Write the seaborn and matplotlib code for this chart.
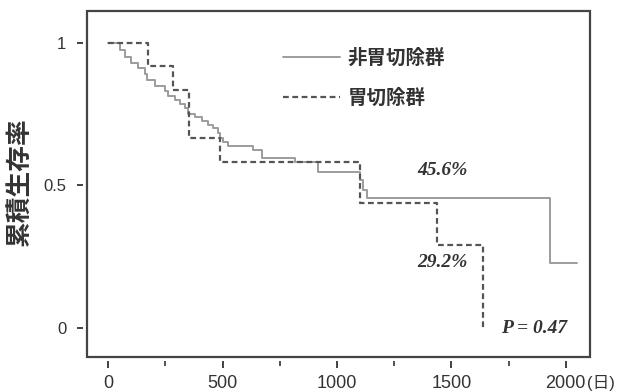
import matplotlib
matplotlib.use("Agg")
import matplotlib.pyplot as plt
import seaborn as sns
import pandas as pd
from matplotlib.lines import Line2D
from matplotlib.patches import Rectangle

# ---------------- data ----------------
groups = ["非胃切除群", "胃切除群"]
non_days = [0, 51, 75, 100, 130, 160, 170, 205, 248, 262, 292, 314, 335, 348, 379,
            410, 436, 458, 480, 488, 501, 523, 634, 671, 816, 918, 1100, 1115, 1130,
            1931, 2048]
non_surv = [1.0, 0.975, 0.95, 0.93, 0.91, 0.89, 0.87, 0.85, 0.83, 0.815, 0.80, 0.785,
            0.77, 0.752, 0.74, 0.725, 0.712, 0.70, 0.685, 0.668, 0.652, 0.639, 0.624,
            0.597, 0.581, 0.548, 0.519, 0.484, 0.456, 0.228, 0.228]
gas_days = [0, 174, 283, 355, 490, 1101, 1436, 1640]
gas_surv = [1.0, 0.917, 0.833, 0.667, 0.583, 0.438, 0.292, 0.0]

x_ticks = [0, 500, 1000, 1500, 2000]
x_minor = [250, 750, 1250, 1750]
x_ticklabels = ["0", "500", "1000", "1500", "2000"]
y_ticks = [0, 0.5, 1]
y_ticklabels = ["0", "0.5", "1"]
annotations = [("45.6%", 1460, 0.551), ("29.2%", 1463, 0.230), ("P = 0.47", 1861, 0.001)]

# ---------------- style ----------------
sns.set_style("white")
plt.rcParams["font.family"] = ["Liberation Sans", "Noto Sans CJK JP"]
TXT = "#333333"
SOLID_C = "#9c9c9c"
DASH_C = "#555555"

fig = plt.figure(figsize=(6.24, 3.92), dpi=100)
ax = fig.add_axes([87 / 624, 1 - 357 / 392, 503 / 624, 346 / 392])

df_non = pd.DataFrame({"day": non_days, "surv": non_surv, "group": groups[0]})
df_gas = pd.DataFrame({"day": gas_days, "surv": gas_surv, "group": groups[1]})

sns.lineplot(data=df_non, x="day", y="surv", ax=ax, estimator=None, sort=False,
             drawstyle="steps-post", color=SOLID_C, linewidth=1.4, legend=False)
sns.lineplot(data=df_gas, x="day", y="surv", ax=ax, estimator=None, sort=False,
             drawstyle="steps-post", color=DASH_C, linewidth=1.6, legend=False,
             linestyle=(0, (2.6, 1.6)))

ax.set_xlim(-93, 2106)
ax.set_ylim(-0.1005, 1.111)
ax.set_xlabel("")
ax.set_ylabel("累積生存率", fontsize=18.5, color=TXT, family=["Noto Sans CJK JP"],
              weight="bold")
ax.yaxis.set_label_coords(-0.107, 0.506)

# spines: hide, offset ticks, draw box frame
for s in ax.spines.values():
    s.set_visible(False)
ax.spines["bottom"].set_position(("outward", 2.9))
ax.spines["left"].set_position(("outward", 2.7))
ax.add_patch(Rectangle((0, 0), 1, 1, transform=ax.transAxes, fill=False,
                       lw=1.6, ec="#444444", clip_on=False, zorder=5))

ax.set_xticks(x_ticks)
ax.set_xticklabels(x_ticklabels)
ax.set_xticks(x_minor, minor=True)
ax.set_yticks(y_ticks)
ax.set_yticklabels(y_ticklabels)
ax.tick_params(axis="x", which="major", direction="out", length=5, width=1.3,
               pad=5, labelsize=13, colors=TXT, bottom=True)
ax.tick_params(axis="x", which="minor", direction="out", length=3.5, width=1.2,
               colors=TXT, bottom=True)
ax.tick_params(axis="y", which="major", direction="out", length=4.3, width=1.3,
               pad=8, labelsize=12, colors=TXT, left=True)
ax.grid(False)

ax.annotate("(日)", xy=(2000, 0), xycoords=("data", "axes fraction"),
            xytext=(15.5, -13.2), textcoords="offset points", ha="left", va="top",
            fontsize=12, color=TXT, family=["Liberation Sans", "Noto Sans CJK JP"],
            annotation_clip=False)

for txt, xd, yd in annotations:
    ax.text(xd, yd, txt, ha="center", va="center", fontsize=14, color=TXT,
            family=["Liberation Serif"], weight="bold", style="italic")

handles = [Line2D([], [], color=SOLID_C, lw=1.4),
           Line2D([], [], color=DASH_C, lw=1.6, ls=(0, (2.6, 1.6)))]
leg = ax.legend(handles, groups, loc="upper left",
                bbox_to_anchor=((283 - 87) / 503, 0.891), frameon=False,
                handlelength=2.93, handletextpad=0.41, labelspacing=1.08,
                borderpad=0, borderaxespad=0,
                prop={"family": ["Noto Sans CJK JP"], "size": 14, "weight": "bold"})
for t in leg.get_texts():
    t.set_color(TXT)

fig.savefig("out.png", dpi=100)
